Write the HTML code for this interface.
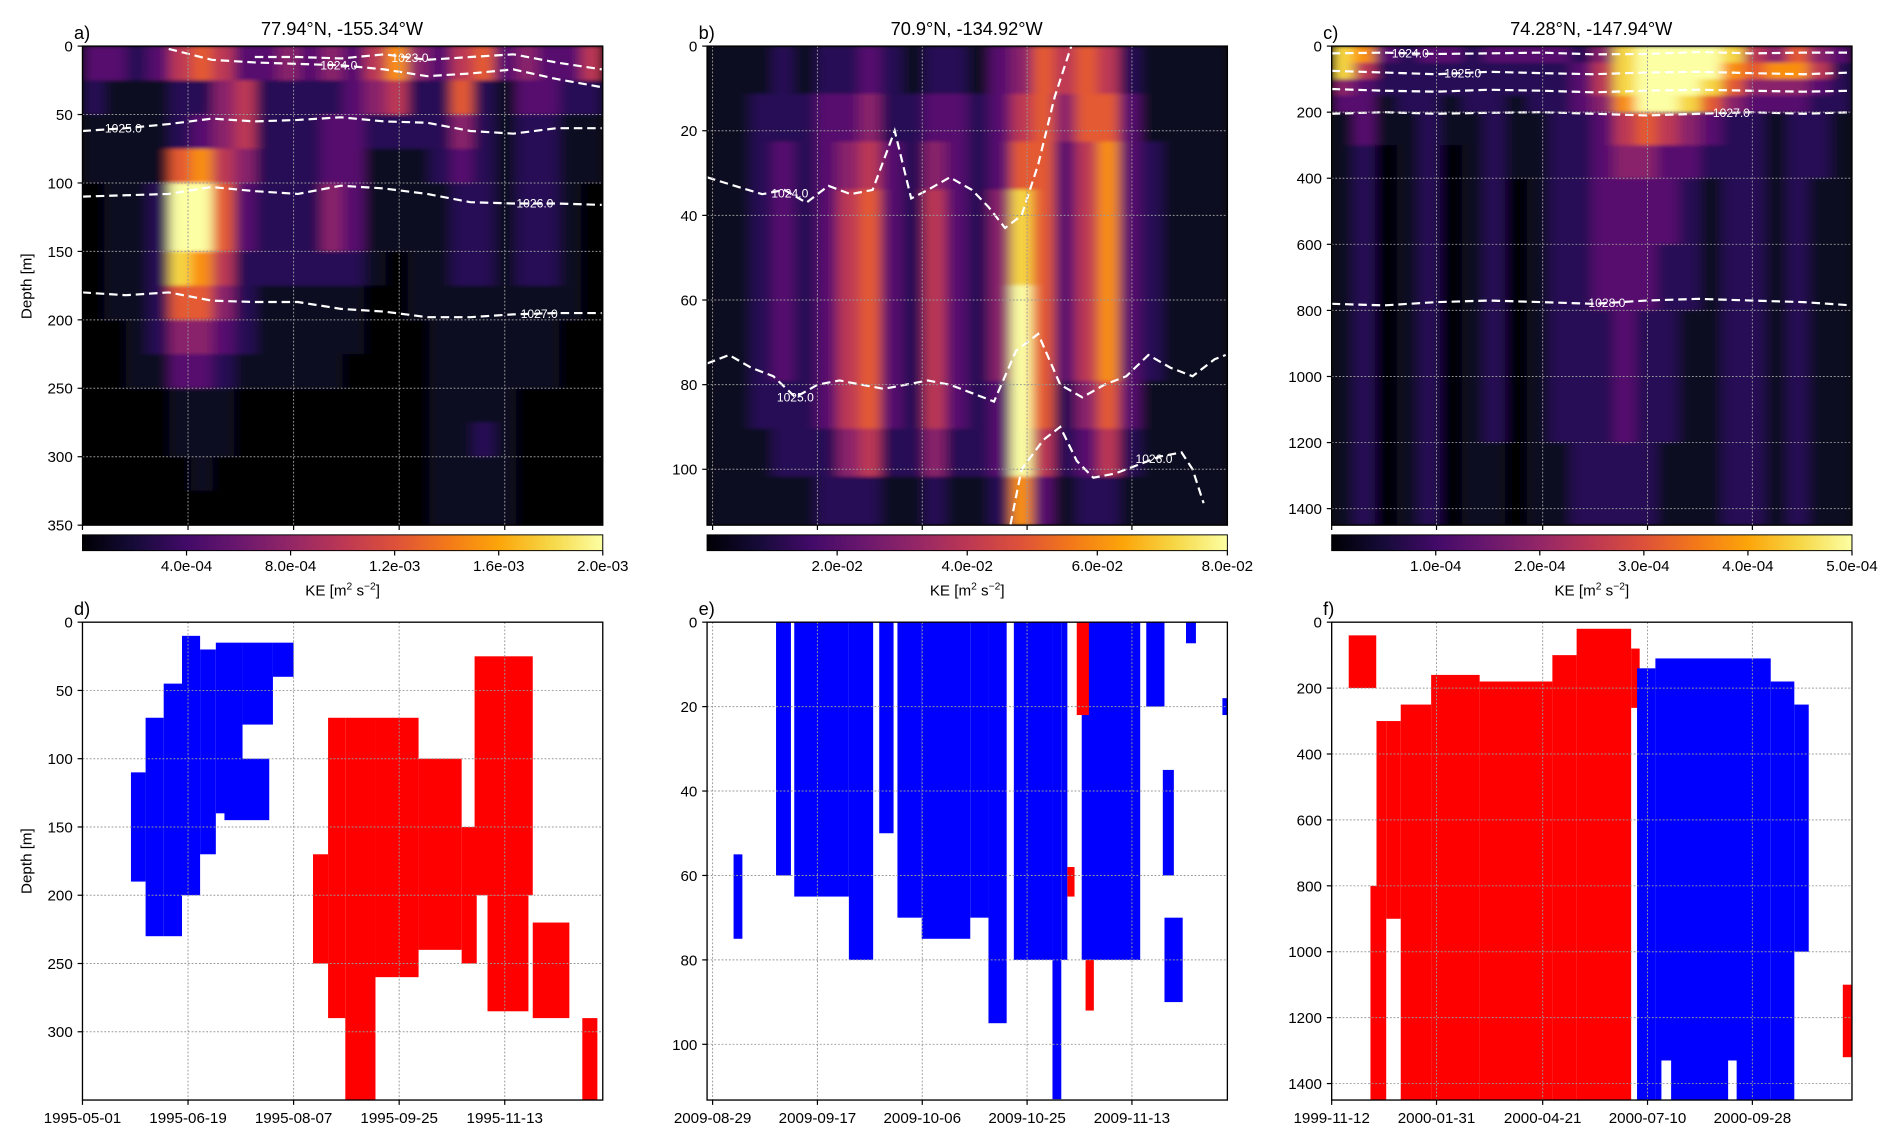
<!DOCTYPE html>
<html><head><meta charset="utf-8">
<style>
html,body{margin:0;padding:0;background:#fff;}
svg{display:block;font-family:"Liberation Sans","DejaVu Sans",sans-serif;}
</style></head>
<body>
<svg id="fig" width="1892" height="1138" viewBox="0 0 1560 938.3" xmlns="http://www.w3.org/2000/svg">
<defs>
<linearGradient id="inferno" x1="0" x2="1" y1="0" y2="0">
<stop offset="0" stop-color="#000004"/><stop offset="0.1" stop-color="#160b39"/><stop offset="0.2" stop-color="#420a68"/><stop offset="0.3" stop-color="#6a176e"/><stop offset="0.4" stop-color="#932667"/><stop offset="0.5" stop-color="#bc3754"/><stop offset="0.6" stop-color="#dd513a"/><stop offset="0.7" stop-color="#f37819"/><stop offset="0.8" stop-color="#fca50a"/><stop offset="0.9" stop-color="#f6d746"/><stop offset="1" stop-color="#fcffa4"/>
</linearGradient>
<filter id="soft" x="-5%" y="-5%" width="110%" height="110%"><feGaussianBlur stdDeviation="5 1.5"/></filter>
<clipPath id="clipA"><rect x="68" y="38" width="429" height="395"/></clipPath>
<clipPath id="clipB"><rect x="583" y="38" width="429" height="395"/></clipPath>
<clipPath id="clipC"><rect x="1098" y="38" width="429" height="395"/></clipPath>
</defs>
</svg>
<script>
// ---------- data ----------
const infernoColors = ["#000004","#0b0724","#280b54","#56106e","#89226a","#bb3755","#e45a31","#f98e09","#f6d543","#fcffa4"];

const aDepthEdges = [0,25,50,75,100,125,150,175,200,225,250,275,300,325,350];
const aGrid = [
[3,3,2,3,5,6,5,3,3,4,3,4,3,5,7,4,3,5,6,3,4,3,3,5],
[2,1,1,1,2,2,4,5,2,2,2,2,3,4,5,2,2,6,2,1,3,3,2,2],
[1,1,1,1,2,3,4,5,2,2,2,3,3,2,2,2,2,4,2,1,2,2,1,1],
[1,1,1,1,6,7,5,4,2,2,2,3,3,1,1,1,2,3,2,1,2,2,1,1],
[0,1,1,2,9,9,6,3,2,2,2,4,3,1,1,1,1,2,2,1,2,2,1,0],
[0,1,1,2,9,9,6,3,2,2,2,4,3,1,1,1,1,2,2,1,2,2,1,0],
[0,1,1,2,8,7,5,2,2,2,2,2,2,1,0,1,1,2,2,1,2,2,1,0],
[0,1,1,2,6,6,4,2,1,1,1,1,1,0,0,1,1,1,1,1,1,1,1,0],
[0,0,1,2,4,4,3,2,1,1,1,1,1,0,0,0,1,1,1,1,1,1,0,0],
[0,0,1,1,3,3,2,1,1,1,1,1,0,0,0,0,1,1,1,1,1,1,0,0],
[0,0,0,0,1,1,1,0,0,0,0,0,0,0,0,0,1,1,1,1,0,0,0,0],
[0,0,0,0,1,1,1,0,0,0,0,0,0,0,0,0,1,1,2,1,0,0,0,0],
[0,0,0,0,0,1,0,0,0,0,0,0,0,0,0,0,1,1,1,1,0,0,0,0],
[0,0,0,0,0,0,0,0,0,0,0,0,0,0,0,0,1,1,1,1,0,0,0,0]];

const bDepthEdges = [0,11.3,22.6,33.9,45.2,56.5,67.8,79.1,90.4,101.7,113.2];
const bGrid = [
[1,1,1,2,1,2,2,3,2,1,2,2,1,3,4,6,5,6,5,2,1,1,1,1],
[1,1,2,2,2,3,3,4,2,2,3,3,2,3,5,6,4,6,6,3,1,1,1,1],
[1,1,2,3,2,3,4,5,3,2,4,3,2,3,6,6,3,5,7,3,2,1,1,1],
[1,1,2,3,2,3,5,6,3,2,5,3,2,4,8,6,3,5,7,3,2,1,1,1],
[1,1,2,3,2,3,5,6,3,2,5,3,2,4,8,6,3,5,7,3,2,1,1,1],
[1,1,2,3,2,3,5,6,3,2,5,3,2,4,9,6,3,5,7,3,2,1,1,1],
[1,1,2,3,2,3,5,6,3,2,5,3,2,4,9,6,3,5,7,3,2,1,1,1],
[1,1,2,2,2,3,5,6,3,2,5,3,2,3,9,6,2,4,6,3,1,1,1,1],
[1,1,1,2,2,2,4,5,2,2,4,2,2,3,9,5,2,3,5,2,1,1,1,1],
[1,1,1,1,1,2,2,2,1,1,2,1,1,2,7,3,1,2,2,1,1,1,1,1]];

const cDepthEdges = [0,50,100,150,200,300,400,600,800,1000,1200,1450];
const cGrid = [
[8,7,3,2,3,3,2,3,3,3,3,2,4,8,9,9,9,9,8,5,4,6,4,3],
[8,5,2,2,2,2,2,2,2,2,2,3,5,8,9,9,9,9,7,6,7,7,5,2],
[4,3,2,2,2,2,2,2,2,2,2,3,5,8,9,9,9,8,6,4,4,4,3,2],
[3,3,1,2,2,1,2,2,1,2,2,3,4,7,9,9,8,6,4,3,3,3,2,2],
[1,3,1,1,2,1,1,2,1,1,2,2,3,5,6,5,4,3,2,2,1,2,2,1],
[1,2,0,1,2,0,1,2,1,1,2,2,3,4,4,3,3,2,2,2,1,2,2,1],
[1,2,0,1,2,0,1,2,0,1,2,2,3,3,3,3,2,1,2,2,1,2,1,1],
[1,2,0,1,2,0,1,2,0,1,2,2,3,3,3,2,2,1,2,2,1,2,1,1],
[1,2,0,1,2,0,1,2,0,1,2,2,2,3,2,2,1,1,2,2,1,2,1,1],
[1,2,0,1,2,0,1,2,0,1,2,2,2,3,2,2,1,1,2,2,1,2,1,1],
[1,2,0,1,2,0,1,1,0,1,1,2,2,2,2,1,1,1,2,2,1,2,1,1]];

// contours (time in days, depth in m)
const aContourTimes = [0,20,40,60,80,100,120,140,160,180,200,220,241];
const aC1023 = [null,null,null,null,8,8,9,6,10,8,6,12,17];
const aC1024 = [null,null,2,10,12,13,14,17,22,20,17,24,30];
const aC1025 = [62,60,57,53,55,54,52,55,56,62,64,60,60];
const aC1026 = [110,109,108,103,106,108,102,104,108,114,115,115,116];
const aC1027 = [180,182,180,186,187,187,192,194,198,198,196,195,195];

const bC1024Times = [0,5,10,14,18,22,26,30,34,37,40,44,48,51,54,57,60,63,66];
const bC1024 = [31,33,35,34,37,33,35,34,20,36,34,31,34,38,43,40,28,12,0];
const bC1025Times = [0,4,8,12,16,20,24,28,32,36,40,44,48,52,56,60,64,68,72,76,80,84,88,92,94];
const bC1025 = [75,73,76,78,83,80,79,80,81,80,79,80,82,84,72,68,80,83,80,78,73,76,78,74,73];
const bC1026Times = [55,57,61,64,67,70,74,78,82,86,88,90];
const bC1026 = [113,100,93,90,98,102,101,99,97,96,100,108];

const cContourTimes = [0,40,80,120,160,200,240,280,320,360,397];
const cC1024 = [22,20,24,22,20,25,24,18,22,20,20];
const cC1025 = [75,80,85,78,82,85,80,78,82,85,80];
const cC1026 = [130,135,138,132,135,140,135,132,135,138,135];
const cC1027 = [205,200,205,202,200,205,210,205,200,205,200];
const cC1028 = [780,785,775,770,775,780,770,765,770,775,785];

// sign segments (day start, day end, depth top, depth bottom, sign: 1 red, -1 blue, 0 white)
const dT0 = [22.5,29.3,37.7,46.2,54.6,61.9,74.3,65.9,88.4, 107,114,122,136,156,176,182,188,209,232];
const dT1 = [29.3,37.7,46.2,54.6,61.9,74.3,88.4,86.7,98, 114,122,136,156,176,183,209,207,226,239];
const dD0 = [110,70,45,10,20,15,15,100,15, 170,70,70,70,100,150,25,200,220,290];
const dD1 = [190,230,230,200,170,140,75,145,40, 250,290,350,260,240,250,200,285,290,350];
const dSign = [-1,-1,-1,-1,-1,-1,-1,-1,-1, 1,1,1,1,1,1,1,1,1,1];

const eT0 = [4.8,12.5,15.8,25.7,31.2,34.5,38.9,47.7,51,55.6,62.6,64.2,67.9,79.6,82.6,82.9,86.8,93.4, 67,68.6,65.3];
const eT1 = [6.4,15.2,25.7,30.1,33.8,38.9,47.7,51,54.3,62.6,64.2,65.3,78.5,82.9,84.6,86.2,88.6,94.3, 69.2,70.1,66.6];
const eD0 = [55,0,0,0,0,0,0,0,0,0,0,0,0,0,35,70,0,18, 0,80,58];
const eD1 = [75,60,65,80,50,70,75,70,95,80,113,80,80,20,60,90,5,22, 22,92,65];
const eSign = [-1,-1,-1,-1,-1,-1,-1,-1,-1,-1,-1,-1,-1,-1,-1,-1,-1,-1, 1,1,1];

const fT0 = [13,29.6,34.2,41.6,52.7,75.9,112.9,168.4,186.9,228.5, 233,247,335,353,251.6,302.5, 390];
const fT1 = [34,38.9,41.6,52.7,75.9,112.9,168.4,186.9,228.5,235, 247,335,353,364,259,309, 397];
const fD0 = [40,800,300,300,250,160,180,100,20,80, 140,110,180,250,1330,1330, 1100];
const fD1 = [200,1450,1450,900,1450,1450,1450,1450,1450,260, 1450,1450,1450,1000,1450,1450, 1320];
const fSign = [1,1,1,1,1,1,1,1,1,1, -1,-1,-1,-1,0,0, 1];

const aXTickDays = [0,49,98,147,196];
const bXTickDays = [1,20,39,58,77];
const cXTickDays = [0,80,161,241,321];
const dXTickLabels = ["1995-05-01","1995-06-19","1995-08-07","1995-09-25","1995-11-13"];
const eXTickLabels = ["2009-08-29","2009-09-17","2009-10-06","2009-10-25","2009-11-13"];
const fXTickLabels = ["1999-11-12","2000-01-31","2000-04-21","2000-07-10","2000-09-28"];
const aYTicks = [0,50,100,150,200,250,300,350];
const bYTicks = [0,20,40,60,80,100];
const cYTicks = [0,200,400,600,800,1000,1200,1400];
const aCbTicks = [0.0004,0.0008,0.0012,0.0016,0.002];
const aCbLabels = ["4.0e-04","8.0e-04","1.2e-03","1.6e-03","2.0e-03"];
const bCbTicks = [0.02,0.04,0.06,0.08];
const bCbLabels = ["2.0e-02","4.0e-02","6.0e-02","8.0e-02"];
const cCbTicks = [0.0001,0.0002,0.0003,0.0004,0.0005];
const cCbLabels = ["1.0e-04","2.0e-04","3.0e-04","4.0e-04","5.0e-04"];

// ---------- drawing ----------
const NS = "http://www.w3.org/2000/svg";
const svg = document.getElementById("fig");
function mk(tag, attrs, parent){
  const el = document.createElementNS(NS, tag);
  for (const k in attrs) el.setAttribute(k, attrs[k]);
  (parent || svg).appendChild(el);
  return el;
}
function txt(s, attrs, parent){ const t = mk("text", attrs, parent); t.textContent = s; return t; }

function makeAxis(x0,x1,y0,y1,t0,t1,d0,d1){
  return {x0,x1,y0,y1,t0,t1,d0,d1,
    xs: d => x0 + (d - t0)/(t1 - t0)*(x1 - x0),
    ys: v => y0 + (v - d0)/(d1 - d0)*(y1 - y0)};
}
const axA = makeAxis(68,497,38,433,0,241.5,0,350);
const axB = makeAxis(583,1012,38,433,0,94.3,0,113.2);
const axC = makeAxis(1098,1527,38,433,0,397,0,1450);
const axD = makeAxis(68,497,513,907,0,241.5,0,350);
const axE = makeAxis(583,1012,513,907,0,94.3,0,113.2);
const axF = makeAxis(1098,1527,513,907,0,397,0,1450);

function drawHeat(ax, grid, depthEdges, name, clip){
  const outer = mk("g", {"clip-path":"url(#"+clip+")"});
  
  
  const bg = mk("rect", {x:ax.x0, y:ax.y0, width:ax.x1-ax.x0, height:ax.y1-ax.y0, fill:"#000004"}, outer);
  
  
  const g = mk("g", {filter:"url(#soft)"}, outer);
  
  
  const nc = grid[0].length;
  for (let r = 0; r < grid.length; r++){
    for (let c = 0; c < nc; c++){
      const ta = ax.t0 + (ax.t1-ax.t0)*c/nc, tb = ax.t0 + (ax.t1-ax.t0)*(c+1)/nc;
      const xa = ax.xs(ta), xb = ax.xs(tb);
      const ya = ax.ys(depthEdges[r]), yb = ax.ys(depthEdges[r+1]);
      const el = mk("rect", {x:xa, y:ya, width:xb-xa+0.6, height:yb-ya+0.6, fill:infernoColors[grid[r][c]]}, g);
      
      
    }
  }
}
function drawContour(ax, times, depths, label, lx, name){
  let d = "", pen = false;
  for (let i = 0; i < times.length; i++){
    if (depths[i] === null){ pen = false; continue; }
    d += (pen ? "L" : "M") + ax.xs(times[i]).toFixed(1) + "," + ax.ys(depths[i]).toFixed(1);
    pen = true;
  }
  const p = mk("path", {d, fill:"none", stroke:"#fff", "stroke-width":1.8, "stroke-dasharray":"7,4"});
  
  
  if (label){
    let dep = null;
    for (let i = 0; i < times.length-1; i++){
      if (depths[i]!==null && depths[i+1]!==null && lx>=times[i] && lx<=times[i+1]){
        dep = depths[i] + (depths[i+1]-depths[i])*(lx-times[i])/(times[i+1]-times[i]);
      }
    }
    if (dep !== null){
      const t = txt(label, {x:ax.xs(lx), y:ax.ys(dep)+3.5, "font-size":10, fill:"#fff", "text-anchor":"middle"});
      
      
    }
  }
}
function drawSigns(ax, t0s, t1s, d0s, d1s, signs, name){
  const g = mk("g", {});
  
  
  for (let i = 0; i < t0s.length; i++){
    const xa = ax.xs(t0s[i]), xb = ax.xs(t1s[i]);
    const ya = ax.ys(d0s[i]), yb = ax.ys(d1s[i]);
    const col = signs[i] > 0 ? "#ff0000" : (signs[i] < 0 ? "#0000ff" : "#ffffff");
    const el = mk("rect", {x:xa, y:ya, width:xb-xa, height:yb-ya, fill:col}, g);
    
    
  }
}
function drawFrame(ax, xTickDays, xLabels, yTicks, name){
  const g = mk("g", {});
  
  
  xTickDays.forEach((d, i) => {
    const x = ax.xs(d);
    const gl = mk("line", {x1:x, x2:x, y1:ax.y0, y2:ax.y1, stroke:"#999", "stroke-width":0.8, "stroke-dasharray":"1.5,1.5"}, g);
    
    
    const tk = mk("line", {x1:x, x2:x, y1:ax.y1, y2:ax.y1+4, stroke:"#000", "stroke-width":1}, g);
    
    
    if (xLabels){
      const t = txt(xLabels[i], {x:x, y:ax.y1+19, "font-size":12.5, "text-anchor":"middle", fill:"#000"}, g);
      
      
    }
  });
  yTicks.forEach(v => {
    const y = ax.ys(v);
    if (v > ax.d0 && v < ax.d1){
      const gl = mk("line", {x1:ax.x0, x2:ax.x1, y1:y, y2:y, stroke:"#999", "stroke-width":0.8, "stroke-dasharray":"1.5,1.5"}, g);
      
      
    }
    const tk = mk("line", {x1:ax.x0-4, x2:ax.x0, y1:y, y2:y, stroke:"#000", "stroke-width":1}, g);
    
    
    const t = txt(String(v), {x:ax.x0-8, y:y+4.5, "font-size":12.5, "text-anchor":"end", fill:"#000"}, g);
    
    
  });
  const fr = mk("rect", {x:ax.x0, y:ax.y0, width:ax.x1-ax.x0, height:ax.y1-ax.y0, fill:"none", stroke:"#000", "stroke-width":1.1}, g);
  
  
}
function drawColorbar(x0, x1, vmax, ticks, labels, name){
  const g = mk("g", {});
  
  
  const r = mk("rect", {x:x0, y:441, width:x1-x0, height:13, fill:"url(#inferno)", stroke:"#000", "stroke-width":0.8}, g);
  
  
  ticks.forEach((v, i) => {
    const x = x0 + v/vmax*(x1-x0);
    const tk = mk("line", {x1:x, x2:x, y1:454, y2:458, stroke:"#000", "stroke-width":1}, g);
    
    
    const t = txt(labels[i], {x:x, y:471, "font-size":12.5, "text-anchor":"middle"}, g);
    
    
  });
  const lab = txt("", {x:(x0+x1)/2, y:491, "font-size":12.5, "text-anchor":"middle"}, g);
  lab.innerHTML = 'KE [m<tspan dy="-5" font-size="8.5">2</tspan><tspan dy="5"> s</tspan><tspan dy="-5" font-size="8.5">−2</tspan><tspan dy="5">]</tspan>';
  
  
}
function label(s, x, y, size, anchor, name){
  const t = txt(s, {x, y, "font-size":size, "text-anchor":anchor||"start"});
  
  
}

drawHeat(axA, aGrid, aDepthEdges, "heatmap-a", "clipA");
drawHeat(axB, bGrid, bDepthEdges, "heatmap-b", "clipB");
drawHeat(axC, cGrid, cDepthEdges, "heatmap-c", "clipC");
drawContour(axA, aContourTimes, aC1023, "1023.0", 152, "contour-1023-a");
drawContour(axA, aContourTimes, aC1024, "1024.0", 119, "contour-1024-a");
drawContour(axA, aContourTimes, aC1025, "1025.0", 19, "contour-1025-a");
drawContour(axA, aContourTimes, aC1026, "1026.0", 210, "contour-1026-a");
drawContour(axA, aContourTimes, aC1027, "1027.0", 212, "contour-1027-a");
drawContour(axB, bC1024Times, bC1024, "1024.0", 15, "contour-1024-b");
drawContour(axB, bC1025Times, bC1025, "1025.0", 16, "contour-1025-b");
drawContour(axB, bC1026Times, bC1026, "1026.0", 81, "contour-1026-b");
drawContour(axC, cContourTimes, cC1024, "1024.0", 60, "contour-1024-c");
drawContour(axC, cContourTimes, cC1025, "1025.0", 100, "contour-1025-c");
drawContour(axC, cContourTimes, cC1026, null, 0, "contour-1026-c");
drawContour(axC, cContourTimes, cC1027, "1027.0", 305, "contour-1027-c");
drawContour(axC, cContourTimes, cC1028, "1028.0", 210, "contour-1028-c");
drawSigns(axD, dT0, dT1, dD0, dD1, dSign, "sign-map-d");
drawSigns(axE, eT0, eT1, eD0, eD1, eSign, "sign-map-e");
drawSigns(axF, fT0, fT1, fD0, fD1, fSign, "sign-map-f");
drawFrame(axA, aXTickDays, null, aYTicks, "axes-a");
drawFrame(axB, bXTickDays, null, bYTicks, "axes-b");
drawFrame(axC, cXTickDays, null, cYTicks, "axes-c");
drawFrame(axD, aXTickDays, dXTickLabels, aYTicks.slice(0,7), "axes-d");
drawFrame(axE, bXTickDays, eXTickLabels, bYTicks, "axes-e");
drawFrame(axF, cXTickDays, fXTickLabels, cYTicks, "axes-f");
drawColorbar(68, 497, 0.002, aCbTicks, aCbLabels, "colorbar-a");
drawColorbar(583, 1012, 0.08, bCbTicks, bCbLabels, "colorbar-b");
drawColorbar(1098, 1527, 0.0005, cCbTicks, cCbLabels, "colorbar-c");
label("77.94°N, -155.34°W", 282, 29, 15, "middle", "title-a");
label("70.9°N, -134.92°W", 797, 29, 15, "middle", "title-b");
label("74.28°N, -147.94°W", 1312, 29, 15, "middle", "title-c");
label("a)", 61, 32, 15, "start", "panel-label-a");
label("b)", 576, 32, 15, "start", "panel-label-b");
label("c)", 1091, 32, 15, "start", "panel-label-c");
label("d)", 61, 507, 15, "start", "panel-label-d");
label("e)", 576, 507, 15, "start", "panel-label-e");
label("f)", 1091, 507, 15, "start", "panel-label-f");
const yl1 = txt("Depth [m]", {x:0, y:0, "font-size":12.5, "text-anchor":"middle", transform:"translate(26,236) rotate(-90)"});


const yl2 = txt("Depth [m]", {x:0, y:0, "font-size":12.5, "text-anchor":"middle", transform:"translate(26,710) rotate(-90)"});


</script>
</body></html>
